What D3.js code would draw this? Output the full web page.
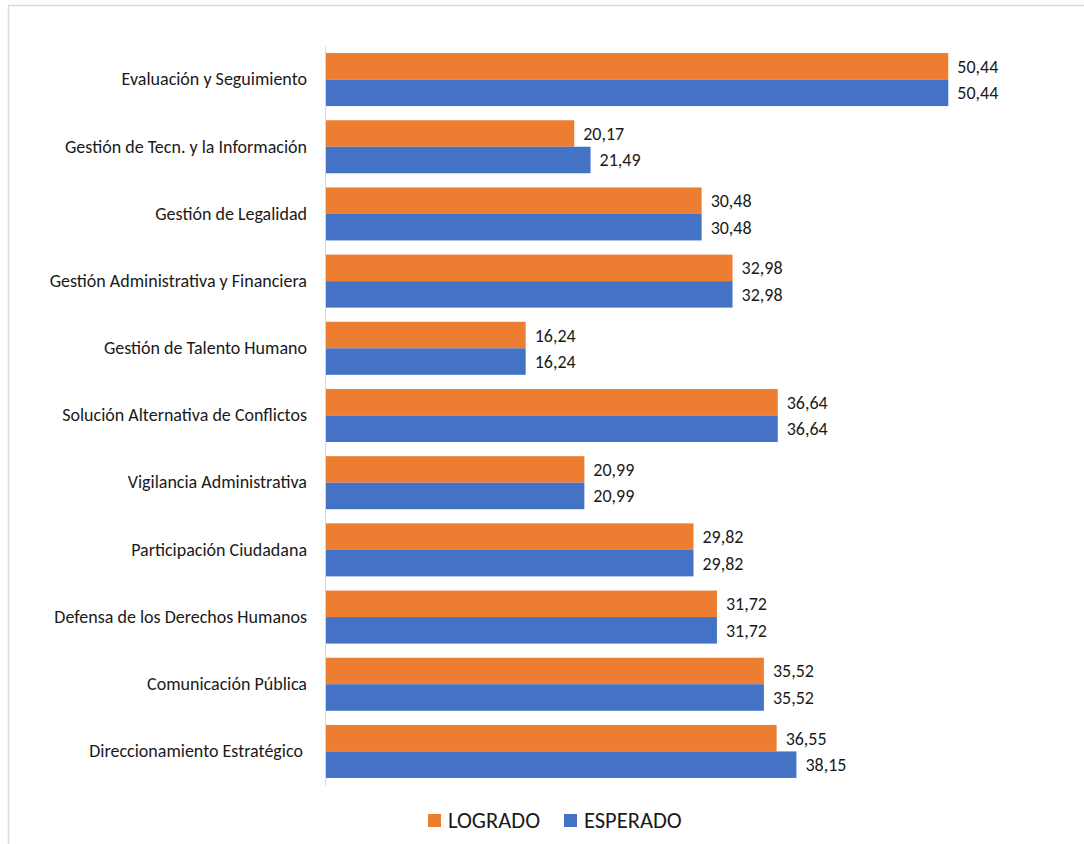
<!DOCTYPE html>
<html><head><meta charset="utf-8">
<script src="https://cdn.jsdelivr.net/npm/d3@7"></script>
<style>body{margin:0;background:#fff}svg{display:block}</style>
</head><body>
<svg id="c" width="1084" height="844"></svg>
<script>
const categories = ["Evaluación y Seguimiento","Gestión de Tecn. y la Información","Gestión de Legalidad","Gestión Administrativa y Financiera","Gestión de Talento Humano","Solución Alternativa de Conflictos","Vigilancia Administrativa","Participación Ciudadana","Defensa de los Derechos Humanos","Comunicación Pública","Direccionamiento Estratégico "];
const logrado = [50.44,20.17,30.48,32.98,16.24,36.64,20.99,29.82,31.72,35.52,36.55];
const esperado = [50.44,21.49,30.48,32.98,16.24,36.64,20.99,29.82,31.72,35.52,38.15];
const seriesNames = ["LOGRADO","ESPERADO"];
const colors = ["#ED7D31","#4472C4"];

const svg = d3.select("#c");
const font = "Carlito, Calibri, 'Open Sans', sans-serif";
// border (top and left)
svg.append("line").attr("x1",8).attr("x2",1084).attr("y1",5.5).attr("y2",5.5).attr("stroke","#d9d9d9").attr("stroke-width",1.5);
svg.append("line").attr("x1",8.5).attr("x2",8.5).attr("y1",5).attr("y2",844).attr("stroke","#d9d9d9").attr("stroke-width",1.5);

const x = d3.scaleLinear().domain([0,60]).range([325,1066.4]);
const y = d3.scaleBand().domain(categories).range([46,785]).paddingInner(0.211).paddingOuter(0.105);
const sub = d3.scaleBand().domain(seriesNames).range([0,y.bandwidth()]);

const data = categories.map((c,i)=>({cat:c, vals:[logrado[i],esperado[i]]}));
const g = svg.selectAll("g.grp").data(data).join("g").attr("transform",d=>`translate(0,${y(d.cat)})`);
g.selectAll("rect").data(d=>d.vals.map((v,j)=>({v,s:seriesNames[j],j}))).join("rect")
  .attr("x",x(0)).attr("y",d=>sub(d.s)).attr("width",d=>x(d.v)-x(0)).attr("height",sub.bandwidth())
  .attr("fill",d=>colors[d.j]);
g.selectAll("text.val").data(d=>d.vals.map((v,j)=>({v,s:seriesNames[j],j}))).join("text")
  .attr("class","val").attr("x",d=>x(d.v)+9).attr("y",d=>sub(d.s)+sub.bandwidth()/2)
  .attr("dy","0.36em").attr("font-family",font).attr("font-size",18).attr("fill","#1a1a1a")
  .text(d=>d3.format(".2f")(d.v).replace(".",","));

// axis
const ax = svg.append("g").attr("transform",`translate(${x(0)},0)`).call(d3.axisLeft(y).tickSize(0).tickPadding(18));
ax.select(".domain").attr("stroke","#d9d9d9").attr("stroke-width",1);
ax.selectAll("text").attr("font-family",font).attr("font-size",18).attr("fill","#1a1a1a").style("white-space","pre");

// legend
const leg = svg.append("g");
const lx = [428,564];
seriesNames.forEach((s,i)=>{
  leg.append("rect").attr("x",lx[i]).attr("y",814).attr("width",13).attr("height",13).attr("fill",colors[i]);
  leg.append("text").attr("x",lx[i]+20).attr("y",820).attr("dy","0.36em").attr("font-family",font).attr("font-size",22.5).attr("fill","#1a1a1a").text(s);
});
</script>
</body></html>
